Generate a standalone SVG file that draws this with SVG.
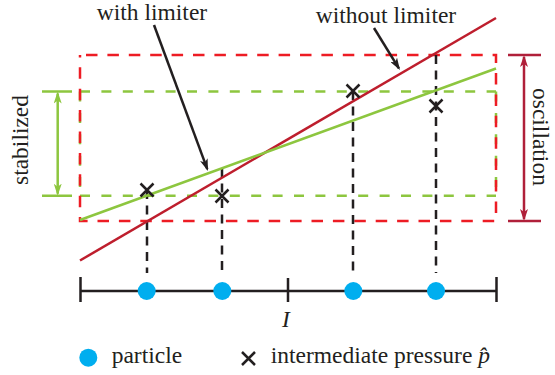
<svg xmlns="http://www.w3.org/2000/svg" width="555" height="375" viewBox="0 0 555 375">
<style>
text{font-family:'Liberation Serif','Times New Roman','DejaVu Serif',serif;font-size:23.5px;fill:#231f20}
.it{font-style:italic}
.rd{fill:none;stroke:#ed1c24;stroke-width:2.5;stroke-dasharray:11.5 9.9}
.gd{fill:none;stroke:#8dc63f;stroke-width:2.5;stroke-dasharray:10 11.4}
.bd{fill:none;stroke:#231f20;stroke-width:2.5;stroke-dasharray:9 6.5}
.rs{fill:none;stroke:#be1e2d;stroke-width:2.5}
.gs{fill:none;stroke:#8dc63f;stroke-width:2.5}
.ox{fill:none;stroke:#b0203a;stroke-width:2.5}
.bk{fill:none;stroke:#231f20;stroke-width:2.5}
.pt{fill:#00aeef}
</style>
<defs>
<marker id="ahB" viewBox="0 0 12 8" refX="10" refY="4" markerWidth="12" markerHeight="8" markerUnits="userSpaceOnUse" orient="auto-start-reverse"><path d="M0,0 L12,4 L0,8 L3,4 Z" fill="#231f20"/></marker>
<marker id="ahG" viewBox="0 0 12 8" refX="10" refY="4" markerWidth="12" markerHeight="8" markerUnits="userSpaceOnUse" orient="auto-start-reverse"><path d="M0,0 L12,4 L0,8 L3,4 Z" fill="#8dc63f"/></marker>
<marker id="ahR" viewBox="0 0 12 8" refX="10" refY="4" markerWidth="12" markerHeight="8" markerUnits="userSpaceOnUse" orient="auto-start-reverse"><path d="M0,0 L12,4 L0,8 L3,4 Z" fill="#b0203a"/></marker>
<path id="xm" d="M-6.5,-6.5 L6.5,6.5 M6.5,-6.5 L-6.5,6.5" class="bk"/>
</defs>

<g id="bounds">
<path class="gd" d="M80,91.5 H496 M80,195.7 H496 M80,91.5 V195.7 M496,91.5 V195.7"/>
<path class="rd" d="M86,55 H496 V221 H80 V55"/>
</g>

<g id="stabilized">
<path class="gs" d="M42,91.5 H72 M42,195.7 H72"/>
<path class="gs" d="M57.7,93.5 V193.7" marker-start="url(#ahG)" marker-end="url(#ahG)"/>
<text transform="translate(28,185) rotate(-90)">stabilized</text>
</g>

<g id="oscillation">
<path class="ox" d="M508,55 H541 M508,221 H541"/>
<path class="ox" d="M524,57 V219" marker-start="url(#ahR)" marker-end="url(#ahR)"/>
<text transform="translate(533,88) rotate(90)">oscillation</text>
</g>

<g id="connectors">
<path class="bd" d="M147,190 V273 M222,168 V273 M353,91 V273 M436,55 V273"/>
<path class="rs" d="M80,260.5 L496,18"/>
<path class="gs" d="M80,220 L496,68.5"/>
<path class="bk" d="M154,25 L207.3,169.1" marker-end="url(#ahB)"/>
<path class="bk" d="M374,28 L398.9,68.3" marker-end="url(#ahB)"/>
</g>

<g id="labels">
<text x="152" y="20" text-anchor="middle">with limiter</text>
<text x="386" y="22.5" text-anchor="middle">without limiter</text>
</g>

<g id="pressures">
<use href="#xm" x="147" y="190"/>
<use href="#xm" x="222" y="196"/>
<use href="#xm" x="353" y="91"/>
<use href="#xm" x="436" y="106"/>
</g>

<g id="axis">
<path class="bk" d="M80,291 H497 M80.5,277 V302 M496.5,277 V302 M288,278 V302"/>
<text class="it" x="286" y="327" text-anchor="middle">I</text>
</g>

<g id="particles">
<circle class="pt" cx="146.7" cy="291" r="9"/>
<circle class="pt" cx="222.3" cy="291" r="9"/>
<circle class="pt" cx="353.3" cy="291" r="9"/>
<circle class="pt" cx="436" cy="291" r="9"/>
</g>

<g id="legend">
<circle class="pt" cx="88.3" cy="357.7" r="9"/>
<text x="111.7" y="363">particle</text>
<use href="#xm" x="248.5" y="358.5"/>
<text x="270.7" y="363">intermediate pressure <tspan class="it">p̂</tspan></text>
</g>
</svg>
